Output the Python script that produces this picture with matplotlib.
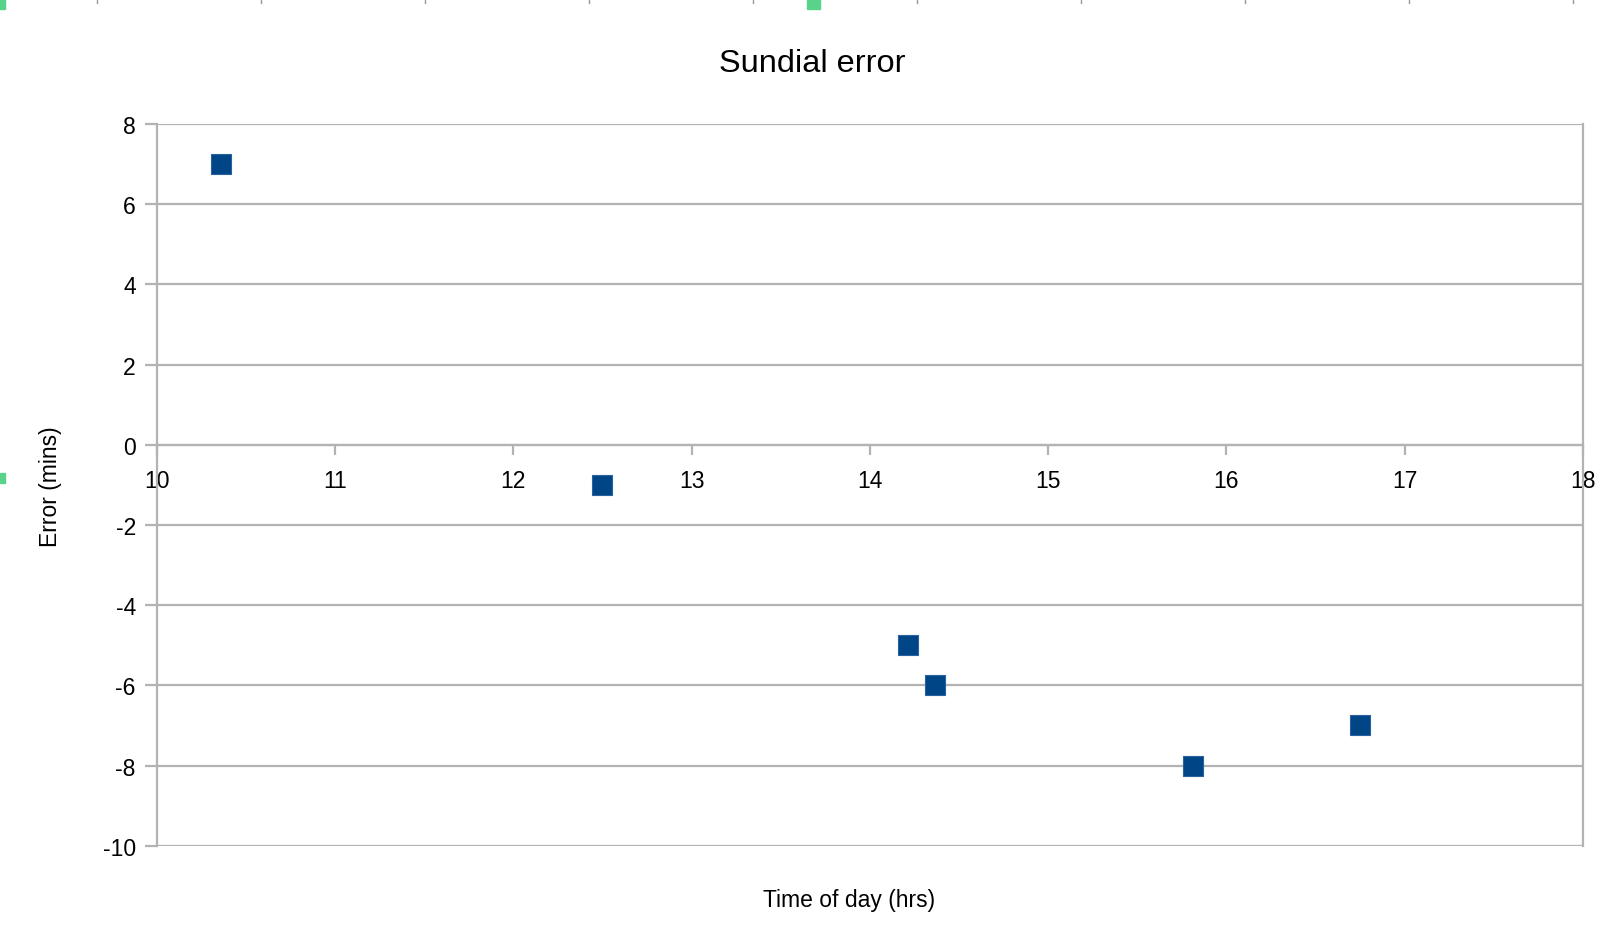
import matplotlib
matplotlib.use("Agg")
import matplotlib.pyplot as plt
from matplotlib.patches import Rectangle
from matplotlib.lines import Line2D

# time of day (hours) and sundial error (minutes)
time_hrs = [10.36, 12.5, 14.215, 14.365, 15.815, 16.75]
error_min = [7, -1, -5, -6, -8, -7]

x_ticks = [10, 11, 12, 13, 14, 15, 16, 17, 18]
y_ticks = [8, 6, 4, 2, 0, -2, -4, -6, -8, -10]

GRID = "#b3b3b3"
BLUE = "#004586"
W, H = 1608, 928

plt.rcParams["font.family"] = ["Liberation Sans", "DejaVu Sans"]

fig = plt.figure(figsize=(W / 100, H / 100), dpi=100)
ax = fig.add_axes([156.7 / W, 1 - 846.7 / H, (1583 - 156.7) / W, (846.7 - 125) / H])

ax.scatter(time_hrs, error_min, marker="s", s=15.0 ** 2, color=BLUE,
           edgecolors="#2a62a0", linewidths=0.8, zorder=5, clip_on=False)

ax.set_xlim(10, 18)
ax.set_ylim(-10, 8)
ax.set_xticks(x_ticks)
ax.set_yticks(y_ticks)
ax.set_yticklabels([str(v) for v in y_ticks])

ax.yaxis.grid(True, color=GRID, linewidth=1.6)
ax.xaxis.grid(False)
ax.set_axisbelow(True)

for s in ("top", "right", "left", "bottom"):
    ax.spines[s].set_color(GRID)
    ax.spines[s].set_linewidth(1.6)
ax.spines["bottom"].set_position(("data", 0))
ax.spines["top"].set_visible(False)

ax.tick_params(axis="x", direction="out", length=7, width=1.6, color=GRID,
               labelsize=16.5, labelcolor="black", pad=10.5)
ax.tick_params(axis="y", direction="out", length=9, width=1.6, color=GRID,
               labelsize=16.5, labelcolor="black", pad=6)

fig.text(812 / W, 1 - 63.5 / H, "Sundial error", fontsize=23.4,
         ha="center", va="center")
fig.text(849 / W, 1 - 901 / H, "Time of day (hrs)", fontsize=16.5,
         ha="center", va="center")
fig.text(51 / W, 1 - 487 / H, "Error (mins)", fontsize=16.5, rotation=90,
         ha="center", va="center")

# editor ruler ticks and selection handles along the border
for xp in [97, 261, 425, 589, 753, 917, 1081, 1245, 1409, 1573]:
    fig.add_artist(Line2D([xp / W, xp / W], [1, 1 - 4 / H], color="#999999",
                          linewidth=1, transform=fig.transFigure))
for (hx, hy, hw, hh) in [(0, 0, 5, 10), (807, 0, 13, 10), (0, 474, 5, 10)]:
    fig.add_artist(Rectangle((hx / W, 1 - (hy + hh) / H), hw / W, hh / H,
                             color="#5ad38a", transform=fig.transFigure))

fig.savefig("out.png", dpi=100)
